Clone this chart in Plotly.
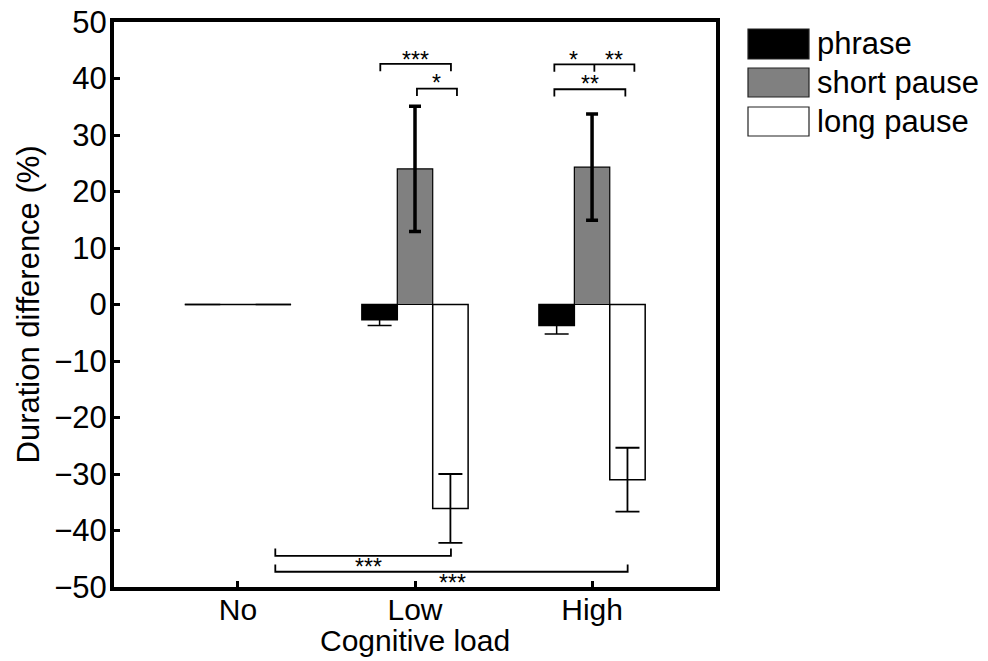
import plotly.graph_objects as go

# Cognitive load conditions and mean duration differences (%) per segment type
categories = ["No", "Low", "High"]
x_pos = [1, 2, 3]

phrase = [0.0, -2.7, -3.7]
phrase_err = [0.0, 1.0, 1.5]

short_pause = [0.0, 24.0, 24.3]
short_pause_err = [0.0, 11.1, 9.4]

long_pause = [0.0, -36.1, -31.0]
long_pause_err = [0.0, 6.1, 5.65]

series_names = ["phrase", "short pause", "long pause"]
series_fill = ["#000000", "#808080", "#ffffff"]

# Significance brackets: (x0, x1, y, tick direction, [(label x, label y, text)], optional mid tick x)
brackets = [
    (1.804, 2.203, 42.6, -1, [(2.0, 44.0, "***")], None),
    (2.011, 2.237, 38.2, -1, [(2.124, 40.0, "*")], None),
    (2.787, 3.239, 42.5, -1, [(2.894, 44.0, "*"), (3.126, 44.0, "**")], 3.013),
    (2.787, 3.188, 38.1, -1, [(2.99, 39.7, "**")], None),
    (1.211, 2.203, -44.5, 1, [(1.736, -45.7, "***")], None),
    (1.211, 3.201, -47.3, 1, [(2.211, -48.5, "***")], None),
]
bracket_tick = 1.3

FONT = "Liberation Sans, Arial, Helvetica, sans-serif"

fig = go.Figure()

# Bars: each series split into the zero "No" condition (no error bar)
# and the loaded conditions (with error bars), sharing one offset group.
bar_specs = [
    (phrase, phrase_err, 1.5, 12, 1.5),
    (short_pause, short_pause_err, 3.5, 6, 1.2),
    (long_pause, long_pause_err, 1.8, 12, 1.5),
]
for k, (name, fill, (vals, errs, thick, capw, lw)) in enumerate(
        zip(series_names, series_fill, bar_specs)):
    with_err = [i for i in range(len(x_pos)) if errs[i] > 0]
    no_err = [i for i in range(len(x_pos)) if errs[i] <= 0]
    common = dict(name=name, offsetgroup=str(k), showlegend=False,
                  marker=dict(color=fill, line=dict(color="#000000", width=lw)))
    fig.add_trace(go.Bar(x=[x_pos[i] for i in no_err], y=[vals[i] for i in no_err],
                         **common))
    fig.add_trace(go.Bar(
        x=[x_pos[i] for i in with_err], y=[vals[i] for i in with_err],
        error_y=dict(type="data", array=[errs[i] for i in with_err], visible=True,
                     color="#000000", thickness=thick, width=capw),
        **common))

# Zero-height bars of the "No" group render as a flat line at 0
group_half = 0.3
zero_idx = [i for i in range(len(categories))
            if phrase[i] == 0 and short_pause[i] == 0 and long_pause[i] == 0]
for i in zero_idx:
    fig.add_trace(go.Scatter(
        x=[x_pos[i] - group_half, x_pos[i] + group_half], y=[0, 0],
        mode="lines", line=dict(color="#000000", width=1.5),
        showlegend=False, hoverinfo="skip",
    ))

# Significance brackets and asterisks
for x0, x1, y, d, labels, mid in brackets:
    ytip = y + d * bracket_tick
    fig.add_trace(go.Scatter(x=[x0, x0, x1, x1], y=[ytip, y, y, ytip], mode="lines",
                             line=dict(color="#000000", width=1.8),
                             showlegend=False, hoverinfo="skip"))
    if mid is not None:
        fig.add_trace(go.Scatter(x=[mid, mid], y=[y, ytip], mode="lines",
                                 line=dict(color="#000000", width=1.8),
                                 showlegend=False, hoverinfo="skip"))
    for lx, ly, txt in labels:
        fig.add_annotation(x=lx, y=ly, text=txt, showarrow=False,
                           xref="x", yref="y", yanchor="middle", yshift=-4,
                           font=dict(family=FONT, size=23, color="#000000"))

# Legend drawn as boxes with labels to the right of the axes
plot_top, plot_bottom, plot_left, plot_w = 22, 587, 114, 602
plot_h = plot_bottom - plot_top
legend_rows = [(29, 59), (68, 97), (107, 136)]
box_x0, box_x1, text_x = 748, 809, 815
for (y0, y1), name, fill in zip(legend_rows, series_names, series_fill):
    fig.add_shape(type="rect", xref="paper", yref="paper",
                  x0=(box_x0 - plot_left) / plot_w, x1=(box_x1 - plot_left) / plot_w,
                  y0=(plot_bottom - y1) / plot_h, y1=(plot_bottom - y0) / plot_h,
                  fillcolor=fill, line=dict(color="#222222", width=1.2))
    fig.add_annotation(x=(text_x - plot_left) / plot_w,
                       y=(plot_bottom - (y0 + y1) / 2) / plot_h,
                       xref="paper", yref="paper", text=name, showarrow=False,
                       xanchor="left", yanchor="middle",
                       font=dict(family=FONT, size=31, color="#000000"))

# Axis titles
fig.add_annotation(x=0.5, y=(plot_bottom - 640) / plot_h, xref="paper", yref="paper",
                   text="Cognitive load", showarrow=False,
                   xanchor="center", yanchor="middle",
                   font=dict(family=FONT, size=30, color="#000000"))
fig.add_annotation(x=(28 - plot_left) / plot_w, y=0.5, xref="paper", yref="paper",
                   text="Duration difference (%)", showarrow=False, textangle=-90,
                   xanchor="center", yanchor="middle",
                   font=dict(family=FONT, size=31, color="#000000"))

fig.update_layout(
    width=988, height=661,
    margin=dict(l=plot_left, r=988 - plot_left - plot_w, t=plot_top, b=661 - plot_bottom,
                autoexpand=False),
    paper_bgcolor="#ffffff", plot_bgcolor="#ffffff",
    barmode="group", bargap=0.4, bargroupgap=0,
    font=dict(family=FONT, size=31, color="#000000"),
    showlegend=False,
)
fig.update_xaxes(
    range=[0.3, 3.7], tickvals=x_pos, ticktext=categories,
    showgrid=False, zeroline=False, automargin=False,
    showline=True, linecolor="#000000", linewidth=4, mirror=True,
    ticks="inside", ticklen=6, tickwidth=3, tickcolor="#000000",
    ticklabelstandoff=-7,
    tickfont=dict(family=FONT, size=30),
)
fig.update_yaxes(
    range=[-50, 50], dtick=10, tick0=0,
    showgrid=False, zeroline=False, automargin=False,
    showline=True, linecolor="#000000", linewidth=4, mirror=True,
    ticks="inside", ticklen=6, tickwidth=3, tickcolor="#000000",
    ticklabelstandoff=-3,
    tickfont=dict(family=FONT, size=31),
)

fig.write_html("out.html")
